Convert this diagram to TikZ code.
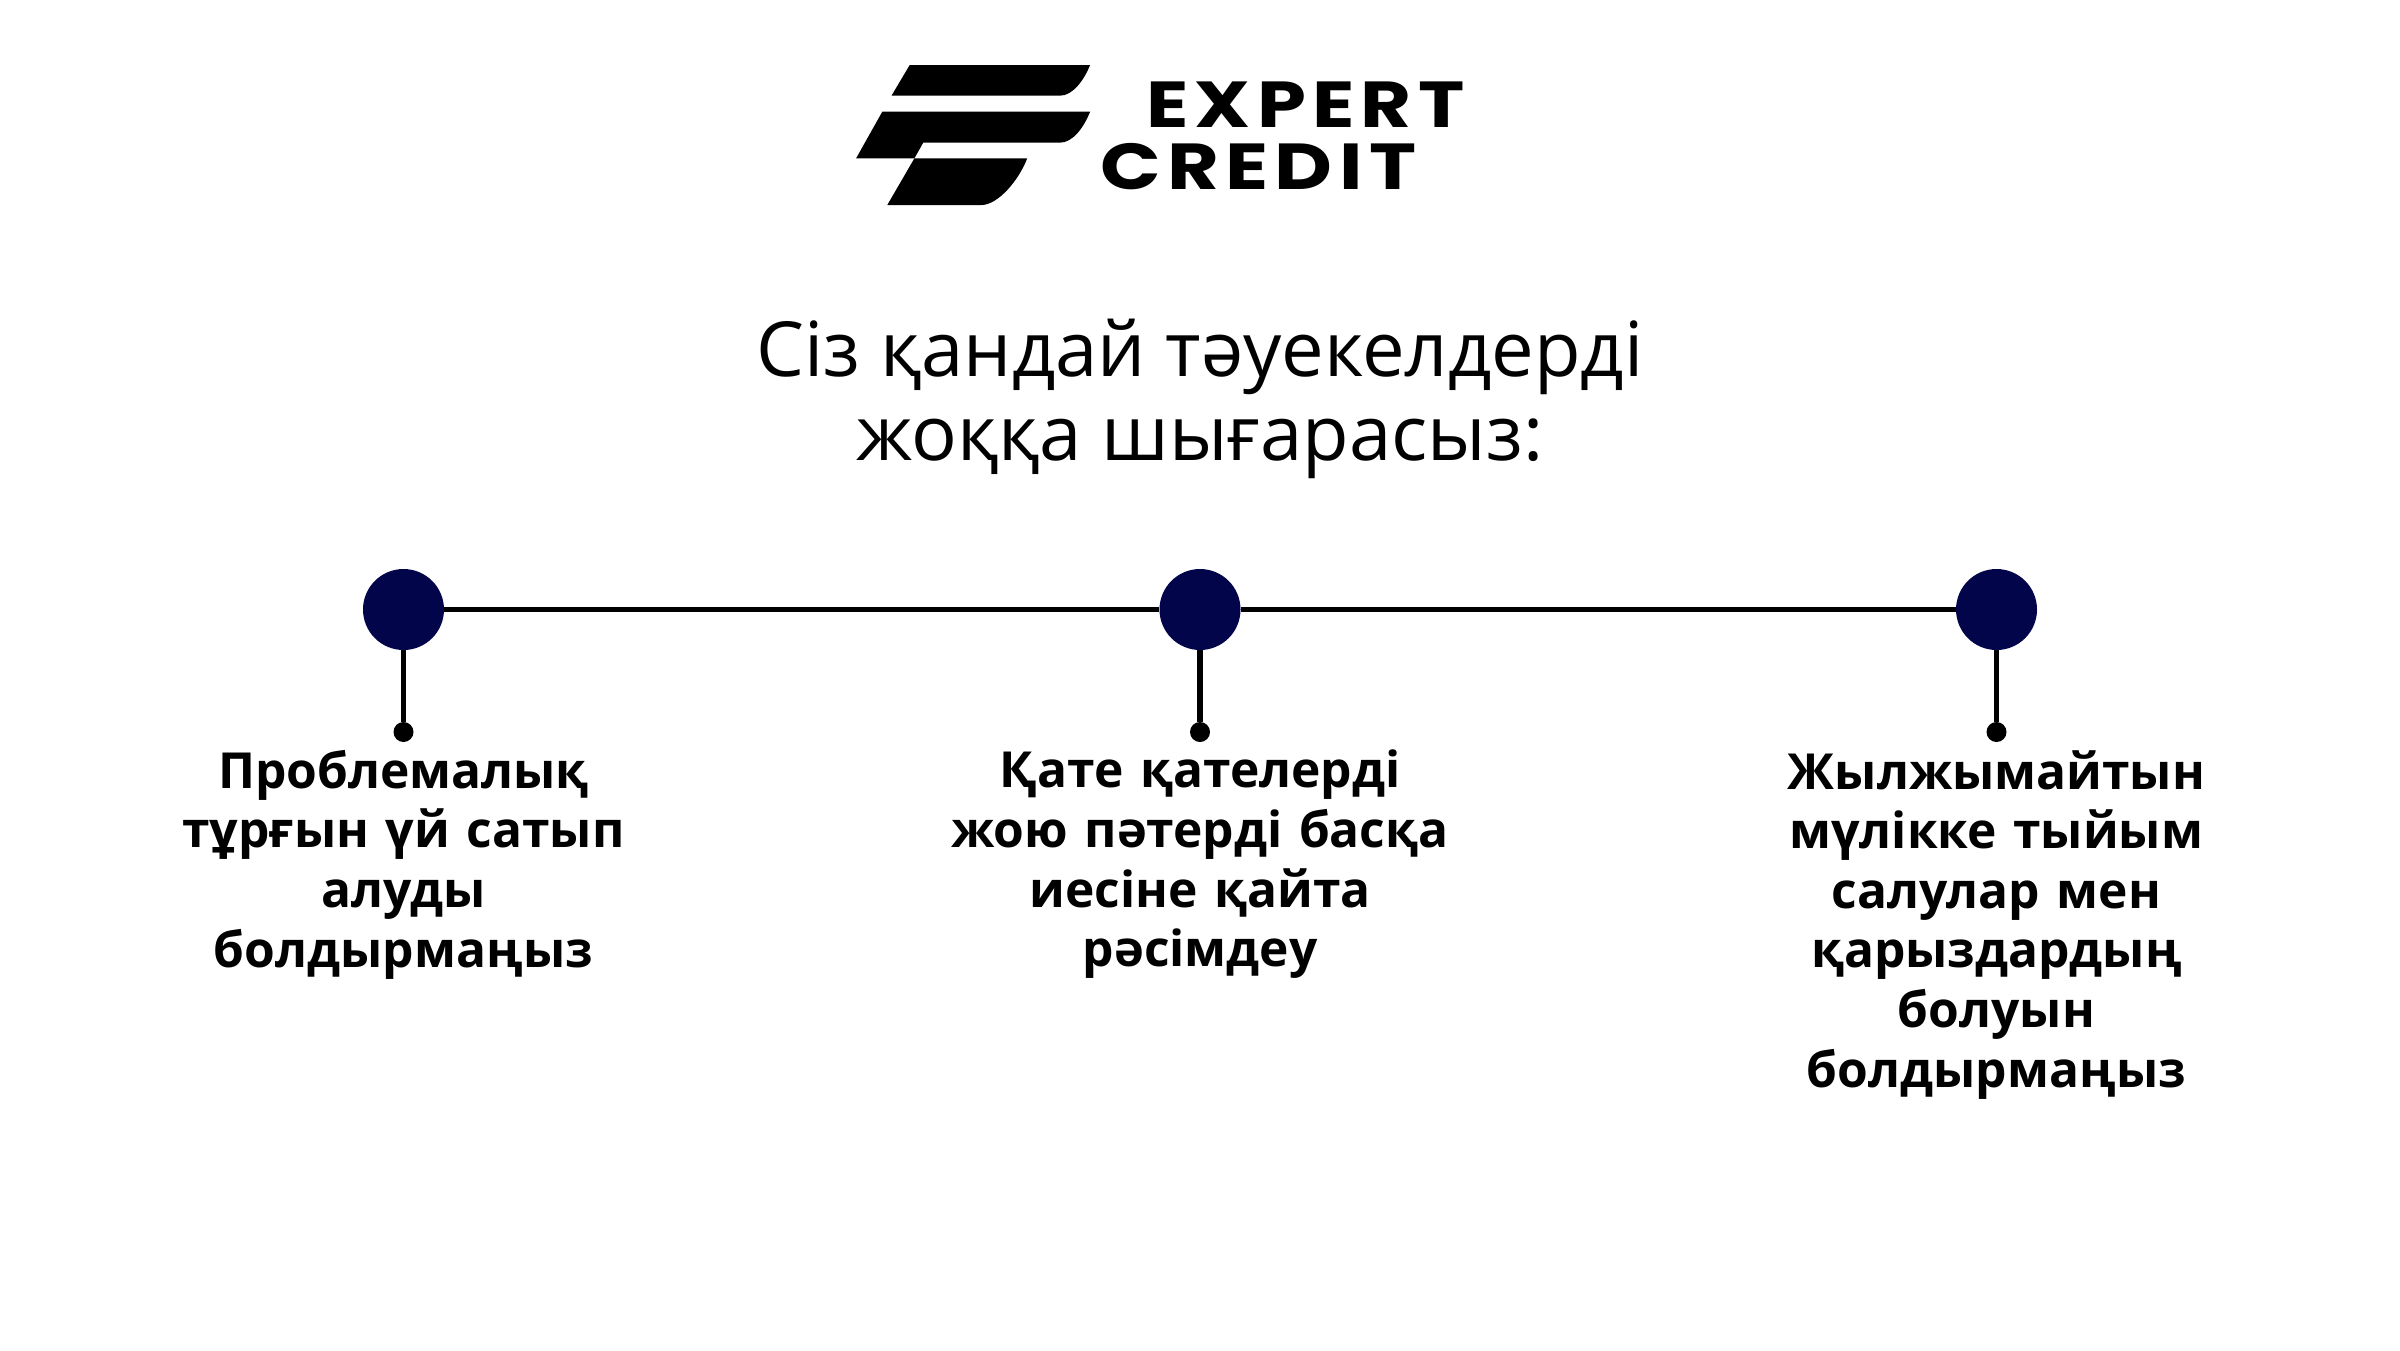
\documentclass[tikz,border=0pt]{standalone}
\usepackage{fontspec}
\setmainfont{Open Sans}
\newfontfamily\logofont[LetterSpace=8]{Poppins}
\newfontfamily\capfont[WordSpace=0.5]{Open Sans}
\definecolor{navy}{HTML}{03054A}
\tikzset{
  hub/.style={circle,fill=navy,draw=none,minimum size=81pt,inner sep=0pt},
  tipdot/.style={circle,fill=black,draw=none,minimum size=20pt,inner sep=0pt},
  link/.style={draw=black,line width=5.5pt},
  caption/.style={font=\fontsize{49.7}{59.6}\selectfont\capfont\bfseries,align=center,anchor=north,text width=520pt,inner sep=0pt},
  headline/.style={font=\fontsize{76}{84}\selectfont,align=center,inner sep=0pt},
  logotext/.style={font=\fontsize{65}{65}\selectfont\logofont\bfseries,anchor=base west,inner sep=0pt}
}
\begin{document}
\begin{tikzpicture}[x=1pt,y=-1pt]
\useasboundingbox (0,0) rectangle (2400,1350);
\fill[white] (0,0) rectangle (2400,1350);
% logo
\fill[black] (909.7,65) -- (1090.1,65) .. controls (1084,80) and (1073,95.7) .. (1059.7,95.7) -- (891.5,95.7) -- cycle;
\fill[black] (882.3,111.7) -- (1090.1,111.7) .. controls (1084,127) and (1073,142.7) .. (1059.7,142.7) -- (923.2,142.7) -- (914.4,158.3) -- (856.1,158.3) -- cycle;
\fill[black] (914.4,158.3) -- (1027.2,158.3) .. controls (1019,180) and (998,205) .. (981.5,205) -- (887.3,205) -- cycle;
\node[logotext] (expert) at (1146,127.3) {\scalebox{1.205}[1]{EXPERT}};
\node[logotext] (credit) at (1100,189.7) {\scalebox{1.225}[1]{CREDIT}};
% title
\node[headline] (title) at (1200,398.5) {Сіз қандай тәуекелдерді\\жоққа шығарасыз:};
% hubs
\node[hub] (h1) at (403.5,609.5) {};
\node[hub] (h2) at (1200,609.5) {};
\node[hub] (h3) at (1996.5,609.5) {};
\node[tipdot] (d1) at (403.5,732) {};
\node[tipdot] (d2) at (1200,732) {};
\node[tipdot] (d3) at (1996.5,732) {};
\draw[link] (h1) -- (h2);
\draw[link] (h2) -- (h3);
\draw[link] (h1) -- (d1);
\draw[link] (h2) -- (d2);
\draw[link] (h3) -- (d3);
% captions
\node[caption] (c1) at (403.5,750) {Проблемалық\\тұрғын үй сатып\\алуды\\болдырмаңыз};
\node[caption] (c2) at (1200,750) {Қате қателерді\\жою пәтерді басқа\\иесіне қайта\\рәсімдеу};
\node[caption] (c3) at (1996.5,750) {Жылжымайтын\\мүлікке тыйым\\салулар мен\\қарыздардың\\болуын\\болдырмаңыз};
\end{tikzpicture}
\end{document}
